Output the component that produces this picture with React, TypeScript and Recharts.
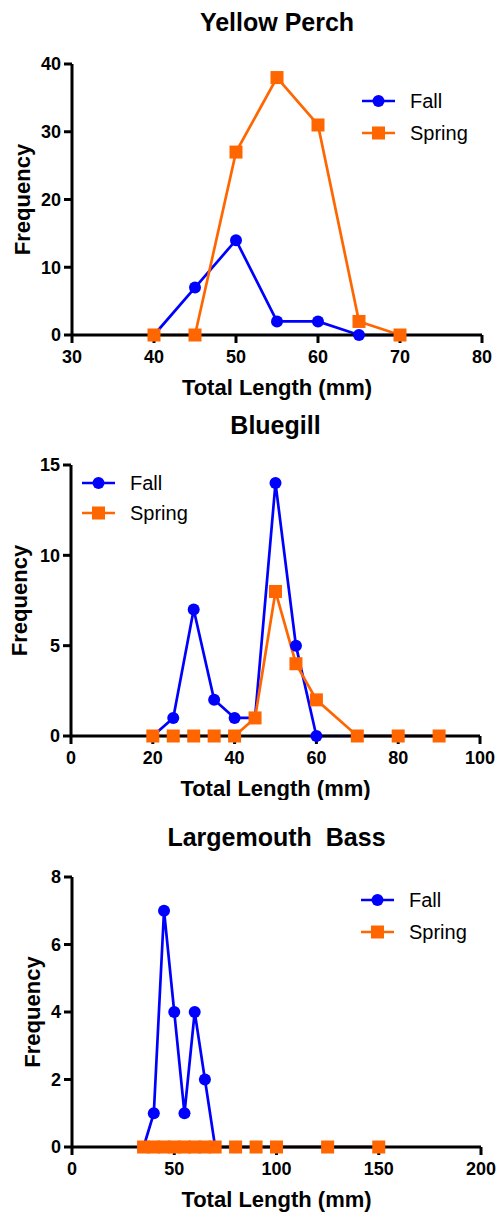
import { Legend, Line, LineChart, XAxis, YAxis } from "recharts";

const BLUE = "#0000FF";
const ORANGE = "#FF6600";
const FONT = '"Liberation Sans", Arial, Helvetica, sans-serif';

// Yellow Perch
const perchLengths = [40, 45, 50, 55, 60, 65, 70];
const perchFall = [0, 7, 14, 2, 2, 0, 0];
const perchSpring = [0, 0, 27, 38, 31, 2, 0];
const perchXTicks = [30, 40, 50, 60, 70, 80];
const perchYTicks = [0, 10, 20, 30, 40];

// Bluegill
const bluegillLengths = [20, 25, 30, 35, 40, 45, 50, 55, 60, 70, 80, 90];
const bluegillFall = [0, 1, 7, 2, 1, 1, 14, 5, 0, 0, 0, 0];
const bluegillSpring = [0, 0, 0, 0, 0, 1, 8, 4, 2, 0, 0, 0];
const bluegillXTicks = [0, 20, 40, 60, 80, 100];
const bluegillYTicks = [0, 5, 10, 15];

// Largemouth Bass
const bassLengths = [35, 40, 45, 50, 55, 60, 65, 70, 80, 90, 100, 125, 150];
const bassFall = [0, 1, 7, 4, 1, 4, 2, 0, 0, 0, 0, 0, 0];
const bassSpring = [0, 0, 0, 0, 0, 0, 0, 0, 0, 0, 0, 0, 0];
const bassXTicks = [0, 50, 100, 150, 200];
const bassYTicks = [0, 2, 4, 6, 8];

const toPoints = (xs: number[], ys: number[]) =>
  xs.map((x, i) => ({ x, y: ys[i] }));

const squareDot = (props: any) => {
  const { cx, cy, index } = props;
  if (cx == null || cy == null) return <g key={`sq-${index}`} />;
  return (
    <rect
      key={`sq-${index}`}
      x={cx - 6.5}
      y={cy - 6.5}
      width={13}
      height={13}
      fill={ORANGE}
    />
  );
};

function LegendBox({ rowH }: { rowH: number }) {
  const rows = [
    { name: "Fall", color: BLUE, shape: "circle" },
    { name: "Spring", color: ORANGE, shape: "square" },
  ];
  return (
    <div style={{ fontFamily: FONT, fontSize: 20, color: "#000" }}>
      {rows.map((r) => (
        <div
          key={r.name}
          style={{ display: "flex", alignItems: "center", height: rowH }}
        >
          <svg width={33} height={14} style={{ display: "block" }}>
            <line x1={0} y1={7} x2={33} y2={7} stroke={r.color} strokeWidth={2.7} />
            {r.shape === "circle" ? (
              <circle cx={16.5} cy={7} r={6} fill={r.color} />
            ) : (
              <rect x={10} y={0.5} width={13} height={13} fill={r.color} />
            )}
          </svg>
          <span style={{ marginLeft: 15, lineHeight: 1 }}>{r.name}</span>
        </div>
      ))}
    </div>
  );
}

type PanelProps = {
  top: number;
  height: number;
  title: string;
  titleY: number;
  plotTop: number;
  plotBottom: number;
  yAxisWidth: number;
  right: number;
  yLabelX: number;
  xs: number[];
  fall: number[];
  spring: number[];
  xTicks: number[];
  yTicks: number[];
  legendLeft: number;
  legendTop: number;
  legendRowH: number;
};

function Panel(p: PanelProps) {
  const plotLeft = p.yAxisWidth;
  const plotRight = 497 - p.right;
  const midX = (plotLeft + plotRight) / 2;
  const midY = (p.plotTop + p.plotBottom) / 2;
  const xAxisH = p.height - p.plotBottom;

  const axisLine = { stroke: "#000", strokeWidth: 3 };
  const tickStyle = { fill: "#000", fontSize: 18, fontWeight: 700, fontFamily: FONT };

  return (
    <div style={{ position: "absolute", left: 0, top: p.top, width: 497, height: p.height }}>
      <div
        style={{
          position: "absolute",
          left: midX - 200,
          width: 400,
          top: p.titleY - 15,
          height: 30,
          lineHeight: "30px",
          textAlign: "center",
          fontFamily: FONT,
          fontWeight: 700,
          fontSize: 25,
          whiteSpace: "pre",
          color: "#000",
        }}
      >
        {p.title}
      </div>
      <LineChart
        width={497}
        height={p.height}
        margin={{ top: p.plotTop, right: p.right, bottom: 0, left: 0 }}
      >
        <XAxis
          type="number"
          dataKey="x"
          domain={[p.xTicks[0], p.xTicks[p.xTicks.length - 1]]}
          ticks={p.xTicks}
          allowDataOverflow
          height={xAxisH}
          axisLine={axisLine}
          tickLine={axisLine}
          tickSize={8}
          tickMargin={7}
          tick={tickStyle}
          label={() => (
            <text
              x={midX}
              y={p.plotBottom + 52}
              textAnchor="middle"
              dominantBaseline="central"
              fontFamily={FONT}
              fontWeight={700}
              fontSize={22}
              fill="#000"
            >
              Total Length (mm)
            </text>
          )}
        />
        <YAxis
          type="number"
          domain={[p.yTicks[0], p.yTicks[p.yTicks.length - 1]]}
          ticks={p.yTicks}
          width={p.yAxisWidth}
          axisLine={axisLine}
          tickLine={axisLine}
          tickSize={8}
          tickMargin={3}
          tick={tickStyle}
          label={() => (
            <text
              x={p.yLabelX}
              y={midY}
              textAnchor="middle"
              dominantBaseline="central"
              transform={`rotate(-90 ${p.yLabelX} ${midY})`}
              fontFamily={FONT}
              fontWeight={700}
              fontSize={22}
              fill="#000"
            >
              Frequency
            </text>
          )}
        />
        <Legend
          layout="horizontal"
          verticalAlign="middle"
          align="center"
          wrapperStyle={{ left: p.legendLeft, top: p.legendTop, width: "auto" }}
          content={() => <LegendBox rowH={p.legendRowH} />}
        />
        <Line
          data={toPoints(p.xs, p.fall)}
          dataKey="y"
          name="Fall"
          stroke={BLUE}
          strokeWidth={2.7}
          dot={{ r: 6, fill: BLUE, stroke: BLUE, strokeWidth: 0 }}
          activeDot={false}
          isAnimationActive={false}
        />
        <Line
          data={toPoints(p.xs, p.spring)}
          dataKey="y"
          name="Spring"
          stroke={ORANGE}
          strokeWidth={2.7}
          dot={squareDot}
          activeDot={false}
          isAnimationActive={false}
        />
      </LineChart>
    </div>
  );
}

export default function App() {
  return (
    <div style={{ position: "absolute", left: 0, top: 0, width: 497, height: 1213, background: "#fff" }}>
      <Panel
        top={0}
        height={400}
        title="Yellow Perch"
        titleY={22}
        plotTop={64}
        plotBottom={335}
        yAxisWidth={72}
        right={15}
        yLabelX={22}
        xs={perchLengths}
        fall={perchFall}
        spring={perchSpring}
        xTicks={perchXTicks}
        yTicks={perchYTicks}
        legendLeft={362}
        legendTop={85}
        legendRowH={32}
      />
      <Panel
        top={400}
        height={400}
        title="Bluegill"
        titleY={25}
        plotTop={65}
        plotBottom={336}
        yAxisWidth={71}
        right={17}
        yLabelX={19}
        xs={bluegillLengths}
        fall={bluegillFall}
        spring={bluegillSpring}
        xTicks={bluegillXTicks}
        yTicks={bluegillYTicks}
        legendLeft={82}
        legendTop={68}
        legendRowH={30}
      />
      <Panel
        top={800}
        height={413}
        title="Largemouth  Bass"
        titleY={37}
        plotTop={77}
        plotBottom={347}
        yAxisWidth={72}
        right={16}
        yLabelX={32}
        xs={bassLengths}
        fall={bassFall}
        spring={bassSpring}
        xTicks={bassXTicks}
        yTicks={bassYTicks}
        legendLeft={361}
        legendTop={84}
        legendRowH={32}
      />
    </div>
  );
}
